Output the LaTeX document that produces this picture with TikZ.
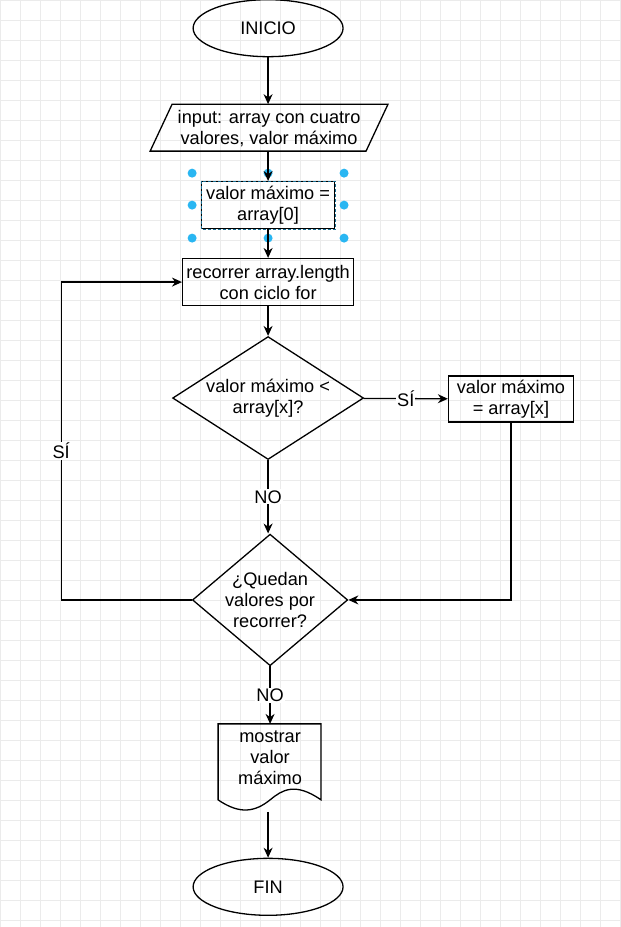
\documentclass[tikz,border=0pt]{standalone}
\usepackage{fontspec}
\setmainfont{Liberation Sans}
\usetikzlibrary{shapes.geometric,arrows.meta}
\definecolor{handleblue}{HTML}{29B6F2}
\begin{document}
\begin{tikzpicture}[x=1pt,y=-1pt,every node/.style={font=\fontsize{18.2}{21}\selectfont}]
    \tikzstyle{term}=[ellipse,draw,line width=1.3pt,minimum width=150pt,minimum height=57pt]
    \tikzstyle{proc}=[rectangle,draw,line width=1.3pt,align=center,inner sep=1pt]
    \tikzstyle{dec}=[diamond,draw,line width=1.3pt,align=center,inner sep=0pt,aspect=1.55]
    \tikzstyle{flow}=[draw,line width=1.3pt,-{Stealth[length=10pt,width=9pt]}]
    \tikzstyle{lbl}=[fill=white,inner sep=1pt]
    \tikzstyle{handle}=[circle,fill=handleblue,inner sep=0pt,minimum size=9pt]
    % grid background
    \fill[white] (0,0) rectangle (620,927);
    \foreach \g in {0,20,...,620} \draw[gray!16] (\g,0) -- (\g,927);
    \foreach \g in {0,20,...,920} \draw[gray!16] (0,\g) -- (620,\g);
    \useasboundingbox (0,0) rectangle (620,927);
    % nodes
    \node[term] (inicio) at (268,28) {INICIO};
    \node[align=center,inner sep=0pt,minimum height=47pt] (input) at (269,128) {input: array con cuatro\\valores, valor máximo};
    \draw[line width=1.3pt] (172,104) -- (388,104) -- (366,151) -- (150,151) -- cycle;
    \node[proc,minimum width=133pt,minimum height=47pt] (init) at (268,205) {valor máximo =\\array[0]};
    \draw[handleblue!60!black,densely dashed] (init.north west) rectangle (init.south east);
    \foreach \hx/\hy in {192/173,268/173,344/173,192/205,344/205,192/238,268/238,344/238}
      \node[handle] at (\hx,\hy) {};
    \node[proc,minimum width=171pt,minimum height=47pt] (loop) at (268,282) {recorrer array.length\\con ciclo for};
    \node[dec,minimum width=191pt,minimum height=123pt] (cmp) at (268,398) {valor máximo <\\array[x]?};
    \node[proc,minimum width=125pt,minimum height=46pt] (set) at (511,399) {valor máximo\\= array[x]};
    \node[dec,minimum width=145pt,minimum height=123pt,aspect=1.18] (more) at (270,600) {¿Quedan\\valores por\\recorrer?};
    \node[minimum width=103pt,minimum height=82pt,inner sep=0pt,align=center] (show) at (270,758) {mostrar\\valor\\máximo};
    \draw[line width=1.3pt] (218,724) -- (321,724) -- (321,800)
      .. controls (295,782) and (282,790) .. (270,800)
      .. controls (255,812) and (240,815) .. (218,800) -- cycle;
    \node[term] (fin) at (268,887) {FIN};
    % connectors
    \draw[flow] (inicio) -- (268,104);
    \draw[flow] (268,151) -- (init);
    \draw[flow] (init) -- (loop);
    \draw[flow] (loop) -- (cmp);
    \draw[flow] (cmp) -- node[lbl] {SÍ} (set);
    \draw[flow] (set.south) |- (more.east);
    \draw[flow] (cmp.south) -- node[lbl] {NO} (more.north -| cmp.south);
    \draw[flow] (more.west) -- (61,600) -- node[lbl,pos=0.47] {SÍ} (61,282) -- (loop.west);
    \draw[flow] (more.south) -- node[lbl] {NO} (270,724);
    \draw[flow] (268,812) -- (fin);
\end{tikzpicture}
\end{document}
